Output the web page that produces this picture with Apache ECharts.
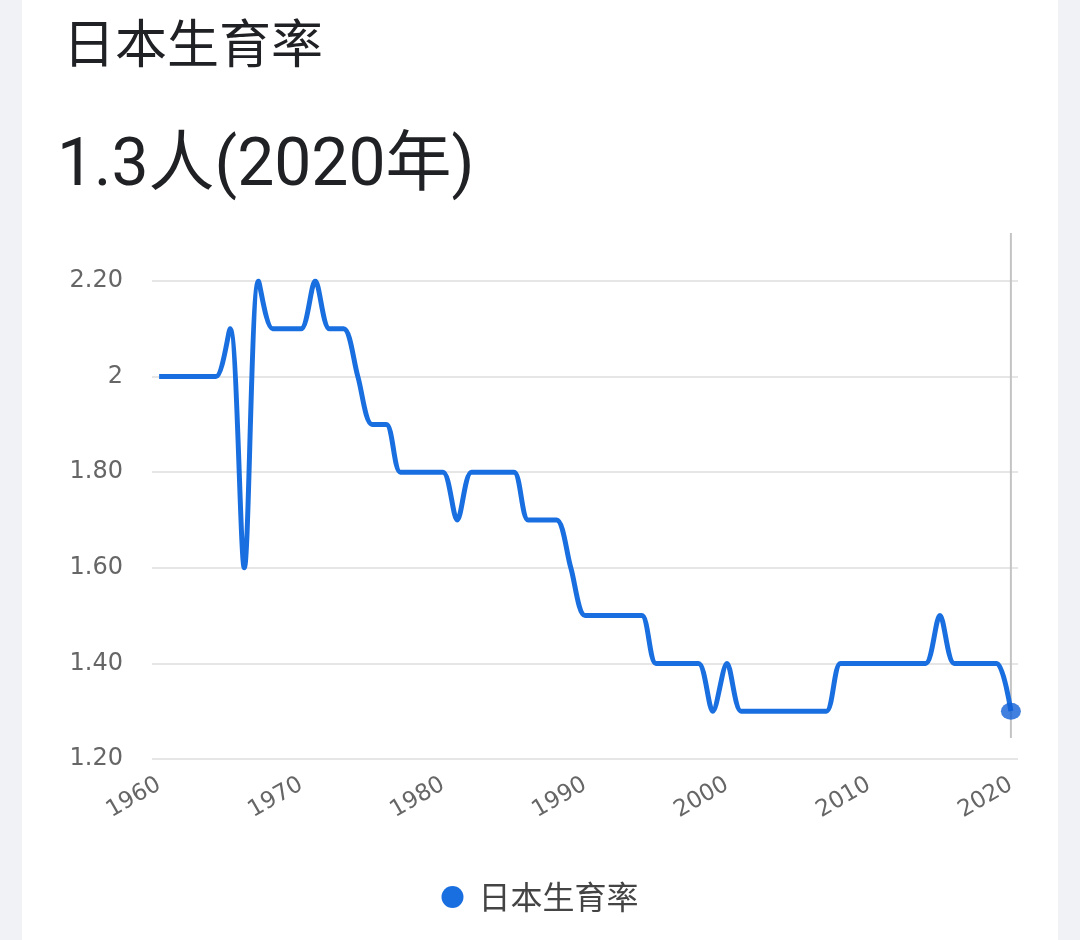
<!DOCTYPE html>
<html>
<head>
<meta charset="utf-8">
<script src="https://cdn.jsdelivr.net/npm/echarts@6/dist/echarts.min.js"></script>
<style>
html,body{margin:0;padding:0;background:#f1f2f6;width:1080px;height:940px;overflow:hidden;}
#card{position:absolute;left:22px;top:0;width:1036px;height:940px;background:#ffffff;}
#chart{position:absolute;left:0;top:0;width:1080px;height:940px;}
</style>
</head>
<body>
<div id="card"></div>
<div id="chart"></div>
<script>
const seriesName = '日本生育率';
const years = [];
for (let y = 1960; y <= 2020; y++) years.push(String(y));
const fertility = [
  2.0, 2.0, 2.0, 2.0, 2.0, 2.1, 1.6, 2.2, 2.1, 2.1,   // 1960-1969
  2.1, 2.2, 2.1, 2.1, 2.0, 1.9, 1.9, 1.8, 1.8, 1.8,   // 1970-1979
  1.8, 1.7, 1.8, 1.8, 1.8, 1.8, 1.7, 1.7, 1.7, 1.6,   // 1980-1989
  1.5, 1.5, 1.5, 1.5, 1.5, 1.4, 1.4, 1.4, 1.4, 1.3,   // 1990-1999
  1.4, 1.3, 1.3, 1.3, 1.3, 1.3, 1.3, 1.3, 1.4, 1.4,   // 2000-2009
  1.4, 1.4, 1.4, 1.4, 1.4, 1.5, 1.4, 1.4, 1.4, 1.4,   // 2010-2019
  1.3                                                 // 2020
];
const yTicks = [1.2, 1.4, 1.6, 1.8, 2.0, 2.2];

const lastYear = years[years.length - 1];
const lastValue = fertility[fertility.length - 1];
const blue = '#1a6fe0';
const cjk = '"Noto Sans CJK SC","Noto Sans CJK JP",sans-serif';

const chart = echarts.init(document.getElementById('chart'), null, {renderer: 'canvas'});
const option = {
  backgroundColor: 'transparent',
  animation: false,
  title: [
    {text: seriesName, left: 58, top: 12,
     textStyle: {fontFamily: cjk, fontSize: 52, fontWeight: 'normal', color: '#202124'}},
    {text: lastValue.toFixed(1) + '人(' + lastYear + '年)', left: 52, top: 130,
     textStyle: {fontFamily: 'Roboto,' + cjk, fontSize: 66, fontWeight: 'normal', color: '#202124'}}
  ],
  legend: {
    data: [{name: seriesName, icon: 'circle'}],
    left: 'center', top: 876,
    itemWidth: 22, itemHeight: 22,
    textStyle: {fontFamily: cjk, fontSize: 32, color: '#444', padding: [0, 0, 0, 10]}
  },
  grid: {left: 152, right: 62, top: 281, bottom: 181},
  xAxis: {
    type: 'category',
    data: years,
    boundaryGap: true,
    axisLine: {show: false},
    axisTick: {show: false},
    splitLine: {show: false},
    axisLabel: {
      interval: 9, rotate: 30, margin: 24,
      color: '#666', fontFamily: '"DejaVu Sans",sans-serif', fontSize: 23
    }
  },
  yAxis: {
    type: 'value',
    min: yTicks[0], max: yTicks[yTicks.length - 1], interval: 0.2,
    axisLine: {show: false},
    axisTick: {show: false},
    splitLine: {lineStyle: {color: '#e6e6e6', width: 2}},
    axisLabel: {
      margin: 29, color: '#666', fontFamily: '"DejaVu Sans",sans-serif', fontSize: 24,
      formatter: v => Math.abs(v - 2) < 1e-9 ? '2' : v.toFixed(2)
    }
  },
  series: [
    {
      name: seriesName, type: 'line', data: fertility,
      smooth: 0.3, showSymbol: false, symbol: 'circle',
      lineStyle: {color: blue, width: 5},
      itemStyle: {color: blue}
    },
    {
      type: 'scatter', data: [[lastYear, lastValue]],
      symbol: 'circle', symbolSize: [20, 17],
      itemStyle: {color: '#1160d6'}, z: 5
    }
  ]
};
chart.setOption(option);
const px = chart.convertToPixel({xAxisIndex: 0}, lastYear);
chart.setOption({
  graphic: [{
    type: 'line', z: 1,
    shape: {x1: px, y1: 233, x2: px, y2: 738},
    style: {stroke: '#c4c4c4', lineWidth: 2}
  }]
});
</script>
</body>
</html>
